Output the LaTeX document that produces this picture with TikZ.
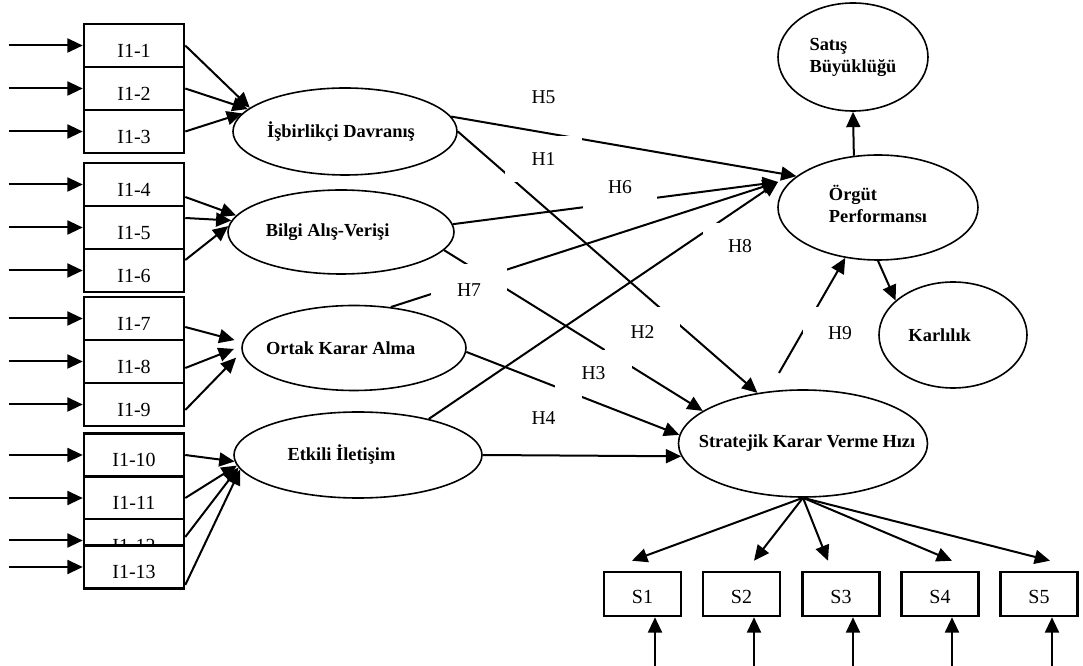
\documentclass[tikz,border=0pt]{standalone}
\usepackage{fontspec}
\setmainfont{Liberation Serif}
\usetikzlibrary{arrows.meta,calc,shapes.geometric}
\pgfdeclarelayer{lines}
\pgfdeclarelayer{labels}
\pgfsetlayers{lines,labels,main}
% zero-width text box, moved sideways by #1 inside its ellipse
\newcommand\txtat[2]{\makebox[0pt]{\hspace*{#1}#2\hspace*{-#1}}}

\begin{document}
\begin{tikzpicture}[x=0.75pt,y=-0.75pt,
  ibox/.style={draw,line width=1.9pt,fill=white,minimum width=75pt,minimum height=32.25pt,
    inner sep=0pt,font=\fontsize{15}{18}\selectfont,text height=17.4pt,text depth=0pt},
  sbox/.style={draw,line width=1.9pt,fill=white,minimum width=57.75pt,minimum height=33pt,
    inner sep=0pt,font=\fontsize{15}{18}\selectfont,text height=14pt,text depth=0pt},
  latent/.style={draw,ellipse,line width=1.2pt,inner sep=0pt,
    font=\fontsize{13.8}{16.6}\selectfont\bfseries},
  hyp/.style={fill=white,inner sep=0pt,minimum width=57.75pt,minimum height=34.5pt,
    font=\fontsize{14.7}{17}\selectfont},
  arr/.style={line width=1.5pt,-{Triangle[length=11.5pt,width=10.5pt]}},
]
\useasboundingbox (0,0) rectangle (1083,666);

% indicator boxes
\node[ibox] (b1)  at (134,45.5)  {I1-1};
\node[ibox] (b2)  at (134,88.5)  {I1-2};
\node[ibox] (b3)  at (134,131.5) {I1-3};
\node[ibox] (b4)  at (134,184.5) {I1-4};
\node[ibox] (b5)  at (134,227.5) {I1-5};
\node[ibox] (b6)  at (134,270.5) {I1-6};
\node[ibox] (b7)  at (134,318.5) {I1-7};
\node[ibox] (b8)  at (134,361.5) {I1-8};
\node[ibox] (b9)  at (134,404.5) {I1-9};
\node[ibox] (b10) at (134,455)   {I1-10};
\node[ibox] (b11) at (134,498)   {I1-11};
\node[ibox] (b12) at (134,540.5) {I1-12};
\node[ibox] (b13) at (134,567)   {I1-13};

% latent variables
\node[latent,minimum width=168pt,minimum height=65.25pt] (isb) at (345,131.5) {\txtat{-3pt}{İşbirlikçi Davranış}};
\node[latent,minimum width=169.5pt,minimum height=63pt] (bil) at (341,232) {\txtat{-10pt}{Bilgi Alış-Verişi}};
\node[latent,minimum width=168pt,minimum height=63.75pt] (ort) at (354,348) {\txtat{-10pt}{Ortak Karar Alma}};
\node[latent,minimum width=186pt,minimum height=64.5pt] (etk) at (358,455) {\txtat{-12.4pt}{Etkili İletişim}};
\node[latent,minimum width=186.75pt,minimum height=80.25pt] (str) at (803,443.5) {\txtat{3pt}{Stratejik Karar Verme Hızı}};
\node[latent,minimum width=150pt,minimum height=78.75pt] (org) at (878,207.5) {\txtat{0pt}{\begin{tabular}{@{}l@{}}Örgüt\\Performansı\end{tabular}}};
\node[latent,minimum width=112.5pt,minimum height=81pt] (sat) at (853,57) {\txtat{0pt}{\begin{tabular}{@{}l@{}}Satış\\Büyüklüğü\end{tabular}}};
\node[latent,minimum width=111pt,minimum height=79.5pt] (kar) at (953,335) {\txtat{-10pt}{Karlılık}};

% speed indicators
\node[sbox] (s1) at (642.5,594) {S1};
\node[sbox] (s2) at (741.5,594) {S2};
\node[sbox] (s3) at (841,594)   {S3};
\node[sbox] (s4) at (940,594)   {S4};
\node[sbox] (s5) at (1039,594)  {S5};

\coordinate (orgIn) at (778,182);
\coordinate (h9s) at (779,373);

% hypothesis labels (opaque text boxes over the paths)
\begin{pgfonlayer}{labels}
\node[hyp] (h5) at (543.5,97) {H5};
\node[hyp] (h1) at (543.5,159) {H1};
\node[hyp,minimum width=55.5pt] (h6) at (620,187) {H6};
\node[hyp,minimum width=57pt,minimum height=39pt] (h7) at (469,290) {H7};
\node[hyp,minimum width=56.25pt,minimum height=37.5pt] (h2) at (642.5,332) {H2};
\node[hyp] (h3) at (593.5,373) {H3};
\node[hyp] (h4) at (543.5,418) {H4};
\node[hyp,minimum width=55.5pt] (h8) at (740,246) {H8};
\node[hyp,minimum width=55.5pt,minimum height=39pt] (h9) at (840,333) {H9};
\end{pgfonlayer}

\begin{pgfonlayer}{lines}
\fill[white] (0,0) rectangle (1083,666);
% error terms of the indicators
\foreach \b in {b1,b2,b3,b4,b5,b6,b7,b8,b9,b10,b11,b12,b13}
  \draw[arr] ($(\b.west)+(-74,0)$) -- (\b.west);
% measurement paths
\draw[arr] (b1.east) -- (isb.166);
\draw[arr] (b2.east) -- (isb.167);
\draw[arr] (b3.east) -- (isb.170);
\draw[arr] ($(b4.east)+(0,12.5)$) -- (bil.171);
\draw[arr] ($(b5.east)+(0,-9.5)$) -- (bil.174);
\draw[arr] ($(b6.east)+(0,-10.5)$) -- (bil.177);
\draw[arr,shorten >=6pt] ($(b7.east)+(0,8.5)$) -- (ort.177);
\draw[arr,shorten >=6pt] ($(b8.east)+(0,6.5)$) -- (ort.179);
\draw[arr,shorten >=6pt] ($(b9.east)+(0,5.5)$) -- (ort.182);
\draw[arr] (b10.east) -- (etk.183);
\draw[arr] (b11.east) -- (etk.185);
\draw[arr] ($(b12.east)+(0,-3.5)$) -- (etk.186);
\draw[arr] ($(b13.east)+(0,18)$) -- (etk.187);
% structural paths
\draw[arr] (isb.8) -- (org.159);     % H5
\draw[arr] (isb.0) -- (str.132);     % H1
\draw[arr] (bil.4) -- (orgIn);       % H6
\draw[arr] (ort.48) -- (orgIn);      % H7
\draw[arr] (etk.27) -- (orgIn);      % H8
\draw[arr] (bil.350) -- (str.162);   % H2
\draw[arr] (ort.358) -- (str.176);   % H3
\draw[arr] (etk.east) -- (str.186);  % H4
\draw[arr] (h9s) -- (org.237);       % H9
\draw[arr] (org.115) -- (sat.south);
\draw[arr] (org.south) -- (kar.149);
% strategic decision speed indicators
\draw[arr] (str.south) -- ($(s1.north)+(-10.5,-10)$);
\draw[arr] (str.south) -- ($(s2.north)+(12.5,-10)$);
\draw[arr] (str.south) -- ($(s3.north)+(-13,-10)$);
\draw[arr] (str.south) -- ($(s4.north)+(12,-10)$);
\draw[arr] (str.south) -- ($(s5.north)+(11,-10)$);
\draw[arr] ($(s1.south)+(12.5,50)$) -- ($(s1.south)+(12.5,0)$);
\draw[arr] ($(s2.south)+(12.5,50)$) -- ($(s2.south)+(12.5,0)$);
\draw[arr] ($(s3.south)+(12,50)$) -- ($(s3.south)+(12,0)$);
\draw[arr] ($(s4.south)+(12,50)$) -- ($(s4.south)+(12,0)$);
\draw[arr] ($(s5.south)+(13,50)$) -- ($(s5.south)+(13,0)$);
\end{pgfonlayer}
\end{tikzpicture}
\end{document}
